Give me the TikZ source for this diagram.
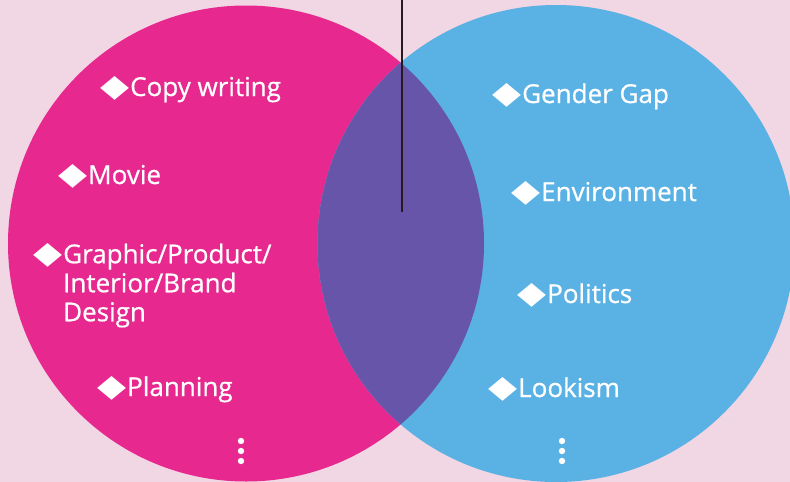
\documentclass[tikz,border=0pt]{standalone}
\usepackage{fontspec}
\setmainfont{Open Sans}[FakeBold=0.7]
\newfontfamily\symfont{DejaVu Sans}
\definecolor{bgpink}{RGB}{241,214,227}
\definecolor{vpink}{RGB}{230,40,143}
\definecolor{vblue}{RGB}{90,177,228}
\definecolor{vpurple}{RGB}{103,85,170}
\definecolor{linecol}{RGB}{40,25,30}
\newcommand{\dia}{\llap{\scalebox{1.45}[1.2]{\symfont\fontsize{26}{26}\selectfont ◆}\hspace{1pt}}}
\begin{document}
\begin{tikzpicture}[x=1pt,y=-1pt,
  item/.style={text=white, font=\fontsize{26}{29}\selectfont, inner sep=0pt, anchor=base west, align=left},
  venn/.style={circle, inner sep=0pt, minimum size=#1},
  dot/.style={fill=white}]
\fill[bgpink] (0,0) rectangle (790,482);
\useasboundingbox (0,0) rectangle (790,482);
\node[venn=476pt, fill=vpink] (L) at (246,243.5) {};
\node[venn=477pt, fill=vblue] (R) at (556,243.5) {};
\begin{scope}
  \clip (L.center) circle [radius=238pt];
  \fill[vpurple] (R.center) circle [radius=238.5pt];
\end{scope}
\coordinate (ltop) at (402,0);
\coordinate (lend) at (402,212);
\draw[linecol, line width=1.4pt] (ltop) -- (lend);
\node[item] (copy) at (130,96) {\dia Copy writing};
\node[item] (movie) at (88,184) {\dia Movie};
\node[item, anchor=north west] (graphic) at (63,243) {\dia Graphic/Product/\\Interior/Brand\\Design};
\node[item] (plan) at (127,396) {\dia Planning};
\node[item] (gender) at (522,103) {\dia Gender Gap};
\node[item] (env) at (541,201) {\dia Environment};
\node[item] (pol) at (547,303) {\dia Politics};
\node[item] (look) at (518,397) {\dia Lookism};
\foreach \y in {441,451,461} {
  \fill[dot] (241,\y) circle [radius=3.2pt];
  \fill[dot] (562,\y) circle [radius=3.2pt];
}
\end{tikzpicture}
\end{document}
